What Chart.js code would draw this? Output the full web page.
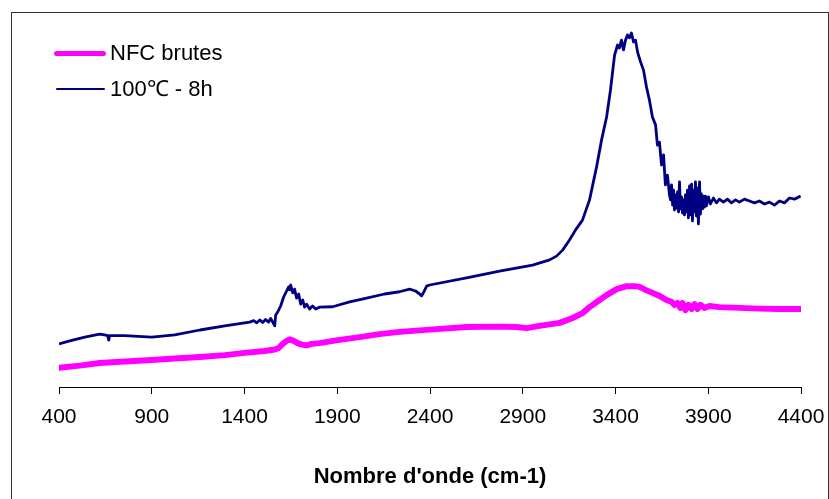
<!DOCTYPE html>
<html>
<head>
<meta charset="utf-8">
<script src="https://cdn.jsdelivr.net/npm/chart.js@4/dist/chart.umd.min.js"></script>
<style>
  html, body { margin: 0; padding: 0; background: #fff; }
  #wrap { position: relative; width: 829px; height: 499px; overflow: hidden; font-family: "Liberation Sans", Arial, sans-serif; }
  #frame { position: absolute; left: 11px; top: 12px; width: 818px; height: 520px; border: 1px solid #333; box-sizing: border-box; }
  canvas { position: absolute; left: 0; top: 0; }
  .leg { position: absolute; left: 0; top: 0; }
  .leg .row { position: absolute; white-space: nowrap; font-size: 22px; color: #000; }
  .leg .sw { position: absolute; }
</style>
</head>
<body>
<div id="wrap">
  <div id="frame"></div>
  <canvas id="c" width="829" height="499"></canvas>
  <div class="leg" id="legend"></div>
</div>
<script>
// ---- Data (wavenumber in cm-1, intensity in arbitrary units) ----
const seriesNames = ["NFC brutes", "100\u2103 - 8h"];
const seriesColors = ["#FF00FF", "#000080"];
const tickValues = [400, 900, 1400, 1900, 2400, 2900, 3400, 3900, 4400];
const axisTitle = "Nombre d'onde (cm-1)";

const nfcWave = [400,512,619,754,900,1024,1160,1294,1400,1508,1563,1584,1606,1627,1643,1665,1686,1708,1735,1762,1805,1902,2020,2128,2236,2398,2597,2775,2867,2921,2991,3099,3169,3222,3260,3314,3352,3406,3460,3503,3530,3562,3599,3637,3675,3702,3718,3734,3750,3761,3777,3793,3810,3826,3842,3858,3879,3906,3960,4068,4176,4284,4398];
const nfcVal  = [5.1,5.7,6.4,6.8,7.2,7.6,8.0,8.5,9.1,9.6,10.0,10.4,11.5,12.3,12.7,12.3,11.7,11.3,11.1,11.5,11.7,12.5,13.3,14.1,14.7,15.3,16.0,16.1,16.0,15.7,16.3,17.1,18.4,19.7,21.3,23.2,24.5,26.1,26.9,26.9,26.7,25.9,25.1,24.3,23.2,22.7,21.9,22.4,21.1,22.4,20.5,21.9,20.8,22.1,20.8,21.9,21.1,21.6,21.3,21.1,20.9,20.8,20.8];

const treatedWave = [400,458,539,619,646,662,668,673,754,900,1024,1160,1294,1400,1428,1450,1466,1482,1498,1514,1530,1541,1552,1563,1568,1579,1595,1611,1627,1638,1643,1649,1660,1670,1681,1692,1703,1714,1724,1735,1751,1767,1784,1805,1875,1967,2058,2155,2236,2290,2322,2344,2355,2366,2382,2398,2597,2775,2953,3045,3082,3115,3152,3185,3222,3260,3298,3325,3352,3373,3395,3411,3421,3432,3443,3454,3465,3475,3486,3497,3508,3519,3535,3551,3567,3583,3599,3616,3626,3637,3648,3659,3669,3680,3691,3697,3702,3708,3713,3718,3724,3729,3734,3740,3745,3750,3756,3761,3767,3772,3777,3783,3788,3793,3799,3804,3810,3815,3820,3826,3831,3836,3842,3847,3853,3858,3863,3869,3874,3879,3885,3890,3901,3912,3928,3944,3960,3982,4003,4025,4047,4068,4095,4122,4149,4176,4203,4230,4257,4284,4311,4338,4365,4398];
const treatedVal  = [11.5,12.3,13.3,14.1,13.9,13.7,12.5,13.7,13.7,13.3,13.9,15.2,16.3,17.1,17.3,17.7,17.1,17.9,17.2,18.0,17.3,18.3,17.3,16.3,19.2,20.0,21.6,24.0,25.6,26.7,25.9,27.2,25.1,26.1,23.7,24.8,22.1,23.2,21.3,22.1,20.8,21.6,20.8,21.3,21.4,22.7,23.7,24.8,25.4,26.1,25.6,24.8,24.3,25.3,26.9,27.2,29.1,30.9,32.5,33.9,34.9,36.5,39.2,41.9,44.5,49.9,58.7,65.9,72.0,79.2,88.5,91.2,90.4,92.5,89.9,92.5,93.9,93.1,94.4,92.0,92.5,89.3,86.7,84.5,80.0,76.5,72.0,69.9,64.5,65.3,59.2,61.9,53.9,56.5,51.2,49.9,53.9,48.5,52.5,47.2,51.2,47.7,52.0,46.7,54.7,47.5,50.7,46.4,49.9,45.9,51.2,46.7,52.5,45.1,53.6,45.9,54.1,44.3,52.5,46.7,54.7,45.6,53.1,43.5,54.7,46.1,51.5,47.5,50.9,48.0,50.9,48.3,50.7,48.8,50.4,49.1,50.1,49.3,50.1,49.1,49.9,49.3,50.1,49.6,49.1,49.6,48.8,49.3,48.5,49.6,49.1,50.4,50.1,50.9];

function toPoints(xs, ys) { return xs.map((x, i) => ({ x: x, y: ys[i] })); }

const FONT = "'Liberation Sans', Arial, Helvetica, sans-serif";

const chart = new Chart(document.getElementById('c'), {
  type: 'line',
  data: {
    datasets: [
      { label: seriesNames[0], data: toPoints(nfcWave, nfcVal), borderColor: seriesColors[0], backgroundColor: seriesColors[0], borderWidth: 6, pointRadius: 0, tension: 0, fill: false, borderJoinStyle: 'round', borderCapStyle: 'round' },
      { label: seriesNames[1], data: toPoints(treatedWave, treatedVal), borderColor: seriesColors[1], backgroundColor: seriesColors[1], borderWidth: 2.8, pointRadius: 0, tension: 0, fill: false, borderJoinStyle: 'round' }
    ]
  },
  options: {
    responsive: false,
    animation: false,
    events: [],
    layout: { padding: { left: 59, right: 28, top: 12, bottom: 0 } },
    plugins: { legend: { display: false }, tooltip: { enabled: false }, title: { display: false } },
    scales: {
      x: {
        type: 'linear',
        min: 400, max: 4400,
        afterBuildTicks: (s) => { s.ticks = tickValues.map(v => ({ value: v })); },
        afterFit: (s) => { s.height = 112; s.paddingLeft = 0; s.paddingRight = 0; },
        ticks: { color: '#000', font: { family: FONT, size: 21 }, padding: 11, maxRotation: 0, autoSkip: false, callback: (v) => String(v) },
        grid: { drawOnChartArea: false, drawTicks: true, tickLength: 7, color: '#000', lineWidth: 1 },
        border: { display: true, color: '#000', width: 1 },
        title: { display: true, text: axisTitle, color: '#000', font: { family: FONT, size: 22, weight: 'bold' }, padding: { top: 0, bottom: 9 } }
      },
      y: { display: false, min: 0, max: 100 }
    }
  }
});

// HTML legend
const leg = document.getElementById('legend');
const legRows = [
  { name: seriesNames[0], color: seriesColors[0], y: 53, x1: 54, x2: 106, w: 5 },
  { name: seriesNames[1], color: seriesColors[1], y: 89, x1: 56, x2: 105, w: 2.5 }
];
legRows.forEach(r => {
  const sw = document.createElement('div');
  sw.className = 'sw';
  sw.style.left = r.x1 + 'px';
  sw.style.width = (r.x2 - r.x1) + 'px';
  sw.style.top = (r.y - r.w / 2) + 'px';
  sw.style.height = r.w + 'px';
  sw.style.background = r.color;
  sw.style.borderRadius = (r.w / 2) + 'px';
  leg.appendChild(sw);
  const t = document.createElement('div');
  t.className = 'row';
  t.textContent = r.name;
  t.style.left = '110px';
  t.style.top = (r.y - 13) + 'px';
  t.style.lineHeight = '26px';
  t.style.fontFamily = FONT;
  leg.appendChild(t);
});
</script>
</body>
</html>
